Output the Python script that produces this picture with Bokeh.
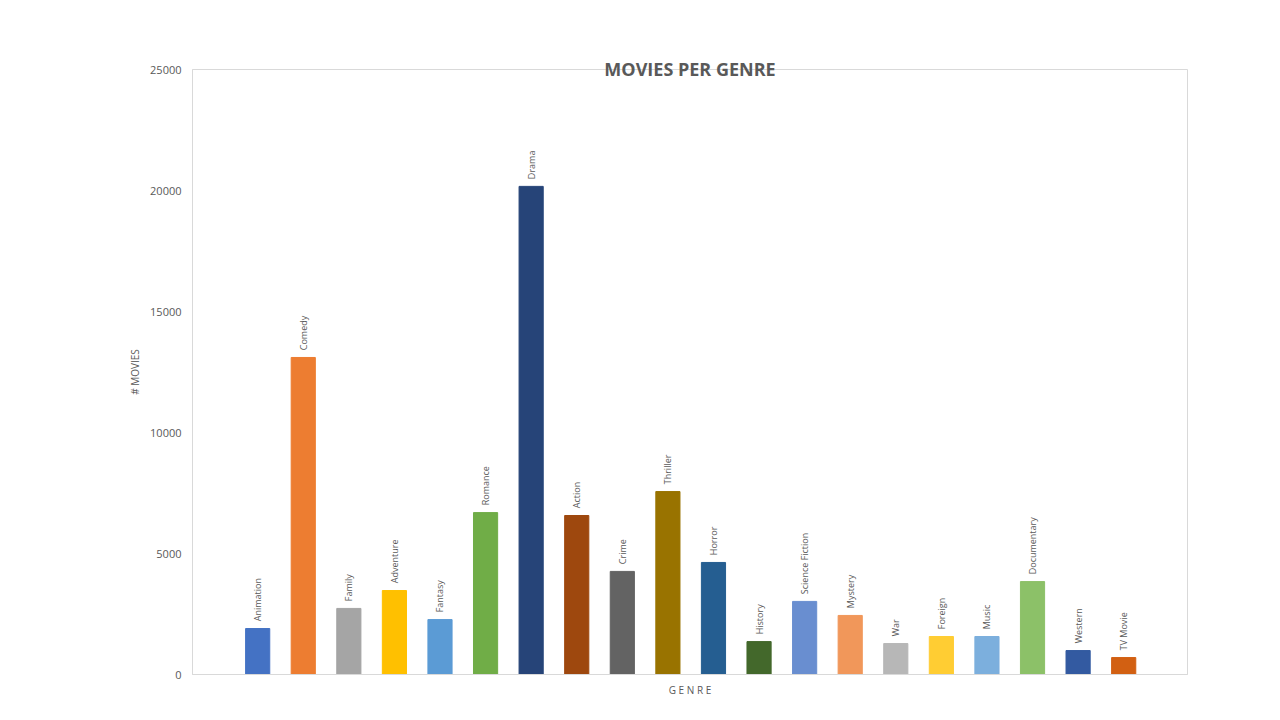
from bokeh.plotting import figure, ColumnDataSource
from bokeh.models import FixedTicker, Range1d
from bokeh.core.properties import value
from bokeh.embed import file_html
from bokeh.resources import INLINE
import math

genres = ["Animation", "Comedy", "Family", "Adventure", "Fantasy", "Romance", "Drama",
          "Action", "Crime", "Thriller", "Horror", "History", "Science Fiction", "Mystery",
          "War", "Foreign", "Music", "Documentary", "Western", "TV Movie"]
counts = [1900, 13100, 2730, 3470, 2270, 6690, 20170, 6570, 4260, 7560, 4630, 1360,
          3020, 2440, 1280, 1570, 1570, 3840, 990, 700]
colors = ["#4472C4", "#ED7D31", "#A5A5A5", "#FFC000", "#5B9BD5", "#70AD47", "#264478",
          "#9E480E", "#636363", "#997300", "#255E91", "#43682B", "#698ED0", "#F1975A",
          "#B7B7B7", "#FFCD33", "#7CAFDD", "#8CC168", "#335AA1", "#D26012"]

src = ColumnDataSource(dict(x=list(range(len(genres))), top=counts, color=colors,
                            label=genres, ly=[c + 300 for c in counts]))

p = figure(width=1264, height=704, output_backend="svg", toolbar_location=None,
           x_range=Range1d(-1.43, 20.4), y_range=Range1d(0, 25000),
           min_border_left=192, min_border_right=77, min_border_top=69, min_border_bottom=30,
           title="MOVIES PER GENRE")
p.outline_line_color = "#D9D9D9"
p.grid.visible = False

p.title.align = "center"
p.title.offset = -30
p.title.standoff = -22
p.title.text_font_size = "18px"
p.title.text_font_style = "bold"
p.title.text_color = "#595959"
p.title.text_font = "Open Sans"

p.vbar(x="x", top="top", width=0.53, color="color", source=src)
p.text(x="x", y="ly", text="label", angle=math.pi / 2, source=src,
       text_align="left", text_baseline="middle", text_font_size="9px",
       text_color="#595959", text_font=value("Open Sans"))

p.yaxis.ticker = FixedTicker(ticks=[0, 5000, 10000, 15000, 20000, 25000])
p.xaxis.ticker = FixedTicker(ticks=[])
p.yaxis.axis_label = "# MOVIES"
p.xaxis.axis_label = "G E N R E"
for ax in (p.xaxis, p.yaxis):
    ax.axis_line_color = "#D9D9D9"
    ax.major_tick_line_color = None
    ax.minor_tick_line_color = None
    ax.major_label_text_color = "#595959"
    ax.major_label_text_font_size = "11px"
    ax.major_label_text_font = "Open Sans"
    ax.axis_label_text_color = "#595959"
    ax.axis_label_text_font_size = "10px"
    ax.axis_label_text_font = "Open Sans"
    ax.axis_label_text_font_style = "normal"
p.xaxis.axis_label_standoff = 8
p.yaxis.formatter.use_scientific = False

open("out.html", "w").write(file_html(p, INLINE))
